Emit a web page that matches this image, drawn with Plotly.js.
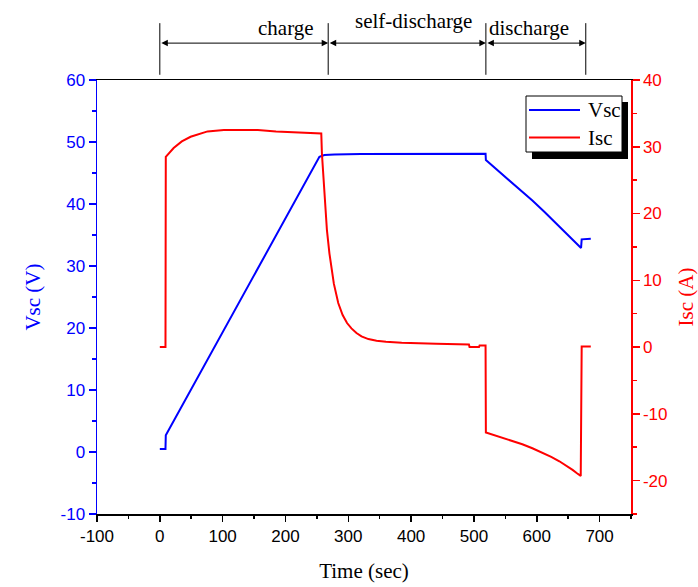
<!DOCTYPE html>
<html>
<head>
<meta charset="utf-8">
<script src="https://cdn.plot.ly/plotly-3.0.1.min.js"></script>
<style>
  html, body { margin: 0; padding: 0; background: #fff; }
  #chart { width: 698px; height: 587px; }
</style>
</head>
<body>
<div id="chart"></div>
<script>
// Supercapacitor voltage (left axis) against time
const timeV = [0, 9, 9.5, 254, 262, 278, 320, 385, 450, 518.5, 519, 535, 550, 572, 593, 612, 630, 645, 657, 670.5, 671.5, 686];
const vsc   = [0.5, 0.5, 2.7, 47.6, 47.9, 48.0, 48.05, 48.1, 48.1, 48.1, 47.1, 45.7, 44.4, 42.45, 40.55, 38.75, 37.0, 35.5, 34.25, 32.9, 34.3, 34.4];

// Supercapacitor current (right axis) against time
const timeI = [0, 9, 9.5, 22, 35, 49, 76, 102, 130, 156, 185, 209, 235, 257,
               258, 261, 266, 270, 277, 284, 291, 298, 305, 313, 321, 332, 345, 360, 385, 440, 492,
               493, 508, 509, 518.5,
               519, 548, 577, 593, 609, 623, 636, 647, 657, 664, 670, 671.5, 686];
const isc   = [0, 0, 28.5, 29.8, 30.8, 31.5, 32.3, 32.5, 32.5, 32.5, 32.3, 32.2, 32.1, 32.0,
               29.0, 24.0, 17.5, 14.0, 9.5, 6.6, 4.8, 3.6, 2.8, 2.1, 1.6, 1.2, 0.95, 0.8, 0.65, 0.5, 0.4,
               0.0, 0.0, 0.25, 0.25,
               -12.8, -13.65, -14.55, -15.15, -15.8, -16.45, -17.1, -17.75, -18.4, -18.9, -19.3, 0.1, 0.1];

// Operating phases and the times that bound them
const phaseNames  = ['charge', 'self-discharge', 'discharge'];
const phaseBounds = [0, 268, 519, 678];

// Tick labels, written with a plain hyphen for negatives
const xTicks  = [-100, 0, 100, 200, 300, 400, 500, 600, 700];
const yTicks  = [-10, 0, 10, 20, 30, 40, 50, 60];
const y2Ticks = [-20, -10, 0, 10, 20, 30, 40];
const label = v => String(v);

const serif = 'Liberation Serif, Times New Roman, serif';
const sans  = 'Liberation Sans, Arial, sans-serif';
const BLUE = '#0000ff', RED = '#ff0000';

const traces = [
  { x: timeV, y: vsc, name: 'Vsc', type: 'scatter', mode: 'lines',
    line: { color: BLUE, width: 2 }, yaxis: 'y', showlegend: false },
  { x: timeI, y: isc, name: 'Isc', type: 'scatter', mode: 'lines',
    line: { color: RED, width: 2 }, yaxis: 'y2', showlegend: false }
];

// Phase markers above the plot: boundary ticks, double arrows and names
const shapes = phaseBounds.map(t => ({
  type: 'line', xref: 'x', yref: 'paper', x0: t, x1: t, y0: 1.012, y1: 1.131,
  line: { color: '#000', width: 1 }
}));

// Legend box with a drop shadow, one line sample per series
const px = v => (v - 97) / 534;    // horizontal pixel -> paper fraction
const py = v => (514 - v) / 434;   // vertical pixel -> paper fraction
shapes.push({ type: 'rect', xref: 'paper', yref: 'paper', layer: 'above',
  x0: px(532), x1: px(628), y0: py(159), y1: py(102), fillcolor: '#000', line: { width: 0 } });
shapes.push({ type: 'rect', xref: 'paper', yref: 'paper', layer: 'above',
  x0: px(526), x1: px(622), y0: py(152), y1: py(96), fillcolor: '#fff', line: { color: '#000', width: 1 } });
const legendItems = [
  { name: traces[0].name, color: BLUE, y: py(110) },
  { name: traces[1].name, color: RED,  y: py(137.5) }
];
legendItems.forEach(it => shapes.push({ type: 'line', xref: 'paper', yref: 'paper', layer: 'above',
  x0: px(529), x1: px(580), y0: it.y, y1: it.y, line: { color: it.color, width: 2 } }));

const annotations = [];
for (let i = 0; i < phaseNames.length; i++) {
  annotations.push({
    xref: 'x', yref: 'paper', x: phaseBounds[i + 1], y: 1.085,
    axref: 'x', ayref: 'pixel', ax: phaseBounds[i], ay: 0,
    text: '', showarrow: true, arrowside: 'end+start',
    arrowhead: 2, arrowsize: 1.3, arrowwidth: 1, arrowcolor: '#000'
  });
}
const labelPos = [
  { x: 249, xanchor: 'right', y: 1.12 },
  { x: 403, xanchor: 'center', y: 1.135 },
  { x: 587, xanchor: 'center', y: 1.12 }
];
phaseNames.forEach((name, i) => {
  annotations.push({
    xref: 'x', yref: 'paper', x: labelPos[i].x, y: labelPos[i].y,
    xanchor: labelPos[i].xanchor, yanchor: 'middle',
    text: name, showarrow: false,
    font: { family: serif, size: 21, color: '#000' }
  });
});
legendItems.forEach(it => annotations.push({
  xref: 'paper', yref: 'paper', x: px(586), y: it.y, xanchor: 'left', yanchor: 'middle',
  text: it.name, showarrow: false, font: { family: serif, size: 21, color: '#000' }
}));

const layout = {
  width: 698, height: 587,
  margin: { l: 97, r: 67, t: 80, b: 73 },
  paper_bgcolor: '#fff', plot_bgcolor: '#fff',
  showlegend: false,
  xaxis: {
    range: [-100, 750], tickmode: 'array', tickvals: xTicks, ticktext: xTicks.map(label),
    showgrid: false, zeroline: false,
    showline: true, linecolor: '#000', linewidth: 1.5, mirror: true,
    ticks: 'outside', ticklen: 6, tickwidth: 1.5, tickcolor: '#000',
    minor: { dtick: 50, tick0: 0, ticks: 'outside', ticklen: 3, tickwidth: 1.5, tickcolor: '#000' },
    tickfont: { family: sans, size: 17, color: '#000' },
    title: { text: 'Time (sec)', font: { family: serif, size: 21, color: '#000' }, standoff: 18 }
  },
  yaxis: {
    range: [-10, 60], tickmode: 'array', tickvals: yTicks, ticktext: yTicks.map(label),
    showgrid: false, zeroline: false,
    showline: true, linecolor: BLUE, linewidth: 1.5,
    ticks: 'outside', ticklen: 7, tickwidth: 1.5, tickcolor: BLUE,
    minor: { dtick: 5, tick0: 0, ticks: 'outside', ticklen: 4, tickwidth: 1.5, tickcolor: BLUE },
    tickfont: { family: sans, size: 17, color: BLUE },
    title: { text: 'Vsc (V)', font: { family: serif, size: 21, color: BLUE }, standoff: 14 }
  },
  yaxis2: {
    overlaying: 'y', side: 'right',
    range: [-25, 40], tickmode: 'array', tickvals: y2Ticks, ticktext: y2Ticks.map(label),
    showgrid: false, zeroline: false,
    showline: true, linecolor: RED, linewidth: 1.5,
    ticks: 'outside', ticklen: 7, tickwidth: 1.5, tickcolor: RED,
    minor: { dtick: 5, tick0: 0, ticks: 'outside', ticklen: 4, tickwidth: 1.5, tickcolor: RED },
    tickfont: { family: sans, size: 17, color: RED },
    title: { text: 'Isc (A)', font: { family: serif, size: 21, color: RED }, standoff: 16 }
  },
  shapes: shapes,
  annotations: annotations
};

Plotly.newPlot('chart', traces, layout, { displayModeBar: false, staticPlot: true });
</script>
</body>
</html>
